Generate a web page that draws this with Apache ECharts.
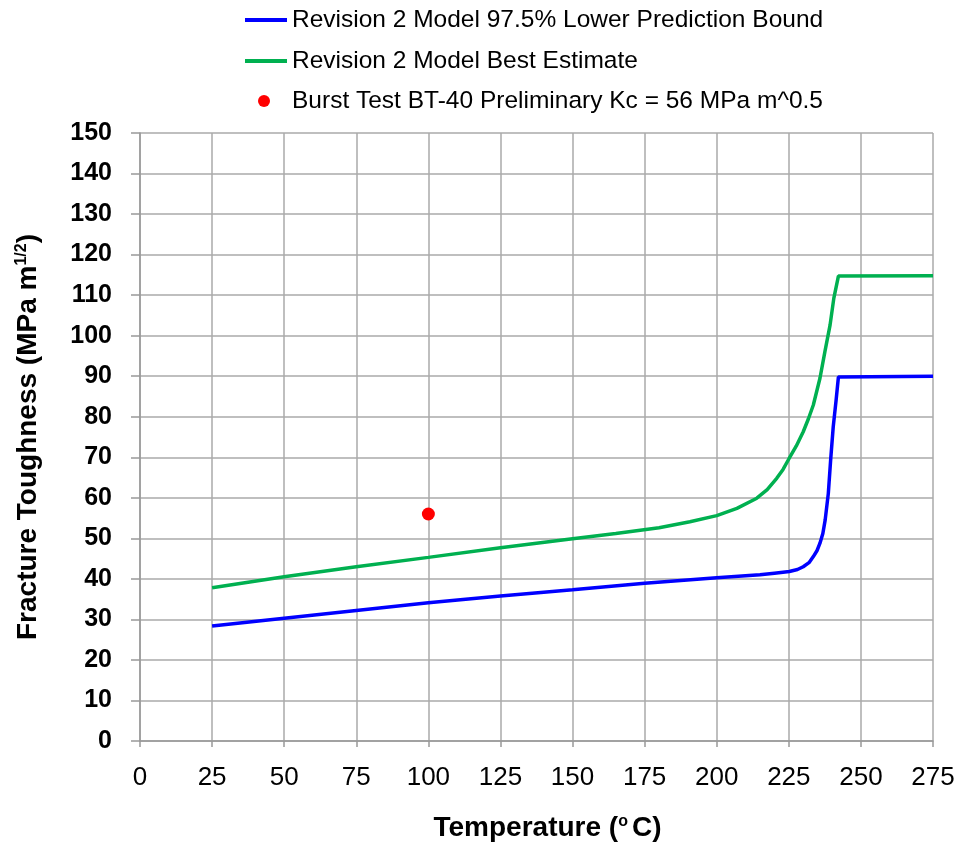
<!DOCTYPE html>
<html>
<head>
<meta charset="utf-8">
<script src="https://cdn.jsdelivr.net/npm/echarts@6/dist/echarts.min.js"></script>
<style>html,body{margin:0;padding:0;background:#fff;}#c{width:961px;height:843px;}</style>
</head>
<body>
<div id="c"></div>
<script>
const seriesNames = [
  'Revision 2 Model 97.5% Lower Prediction Bound',
  'Revision 2 Model Best Estimate',
  'Burst Test BT-40 Preliminary Kc = 56 MPa m^0.5'
];
const lowerBound = [[25,28.4],[50,30.3],[75,32.2],[100,34.1],[125,35.8],[150,37.3],[175,38.9],[200,40.3],[215,41.0],[220,41.4],[225.2,41.8],[228,42.3],[230,43.0],[232,44.0],[233.5,45.5],[234.8,47],[235.8,48.8],[236.8,51.2],[237.6,54.5],[238.7,61.1],[239.5,69.3],[240.4,77.5],[241.4,84.1],[242.2,89.8],[242.7,90],[275,90]];
const bestEstimate = [[25,37.8],[50,40.5],[75,43.0],[100,45.3],[125,47.7],[150,49.9],[165,51.2],[180,52.6],[190.7,54.1],[200,55.6],[207,57.4],[213.9,59.9],[217.5,62],[220.8,64.8],[223,67],[225.1,69.7],[227.6,72.8],[230,76.3],[231.8,79.5],[233.5,82.9],[235.8,89.5],[237.5,96],[239.3,102.6],[240.6,109.2],[242.2,114.7],[242.7,114.8],[275,114.8]];
const burstTest = [[100,56]];
const xTicks = {min:0, max:275, interval:25};
const yTicks = {min:0, max:150, interval:10};

const chart = echarts.init(document.getElementById('c'), null, {renderer:'canvas'});
const font = 'Liberation Sans, Arial, sans-serif';
chart.setOption({
  animation:false,
  backgroundColor:'#fff',
  grid:{left:140, right:28, top:133, bottom:102, containLabel:false, outerBoundsMode:'none'},
  legend:[{
    data:[seriesNames[0], seriesNames[1]],
    orient:'vertical', left:245, top:7, itemGap:15, padding:0,
    icon:'rect', itemWidth:42, itemHeight:4,
    textStyle:{fontFamily:font, fontSize:24.5, lineHeight:26, color:'#000', padding:0}
  },{
    data:[seriesNames[2]],
    orient:'vertical', left:258, top:88, padding:0,
    icon:'circle', itemWidth:42, itemHeight:12,
    textStyle:{fontFamily:font, fontSize:24.5, lineHeight:26, color:'#000', padding:[0,0,0,2]}
  }],
  xAxis:{
    type:'value', min:xTicks.min, max:xTicks.max, interval:xTicks.interval,
    name:'{b|Temperature (}{s|o}{b|C)}', nameLocation:'middle', nameGap:73,
    nameTextStyle:{padding:[0,0,0,22], rich:{
      b:{fontFamily:font, fontSize:28, fontWeight:'bold', color:'#000'},
      s:{fontFamily:font, fontSize:16, fontWeight:'bold', color:'#000', verticalAlign:'top', padding:[0,4,12,0]}
    }},
    axisLine:{show:true, lineStyle:{color:'#999', width:1.5}},
    axisTick:{show:true, length:6, lineStyle:{color:'#999', width:1.5}},
    axisLabel:{fontFamily:font, fontSize:26, color:'#000', margin:24},
    splitLine:{show:true, lineStyle:{color:'#aaa', width:1.5}}
  },
  yAxis:{
    type:'value', min:yTicks.min, max:yTicks.max, interval:yTicks.interval,
    name:'{b|Fracture Toughness (MPa m}{s|1/2}{b|)}', nameLocation:'middle', nameGap:98,
    nameTextStyle:{rich:{
      b:{fontFamily:font, fontSize:28, fontWeight:'bold', color:'#000'},
      s:{fontFamily:font, fontSize:16, fontWeight:'bold', color:'#000', verticalAlign:'top', padding:[0,0,12,0]}
    }},
    axisLine:{show:true, lineStyle:{color:'#999', width:1.5}},
    axisTick:{show:true, length:9, lineStyle:{color:'#999', width:1.5}},
    axisLabel:{fontFamily:font, fontSize:25, fontWeight:'bold', color:'#000', margin:28},
    splitLine:{show:true, lineStyle:{color:'#aaa', width:1.5}}
  },
  series:[
    {name:seriesNames[0], type:'line', data:lowerBound, symbol:'none',
     lineStyle:{color:'#0000ff', width:3.5}, itemStyle:{color:'#0000ff'}, z:3},
    {name:seriesNames[1], type:'line', data:bestEstimate, symbol:'none',
     lineStyle:{color:'#00b050', width:3.5}, itemStyle:{color:'#00b050'}, z:3},
    {name:seriesNames[2], type:'scatter', data:burstTest, symbol:'circle', symbolSize:13,
     itemStyle:{color:'#ff0000', opacity:1}, z:4}
  ]
});
</script>
</body>
</html>
